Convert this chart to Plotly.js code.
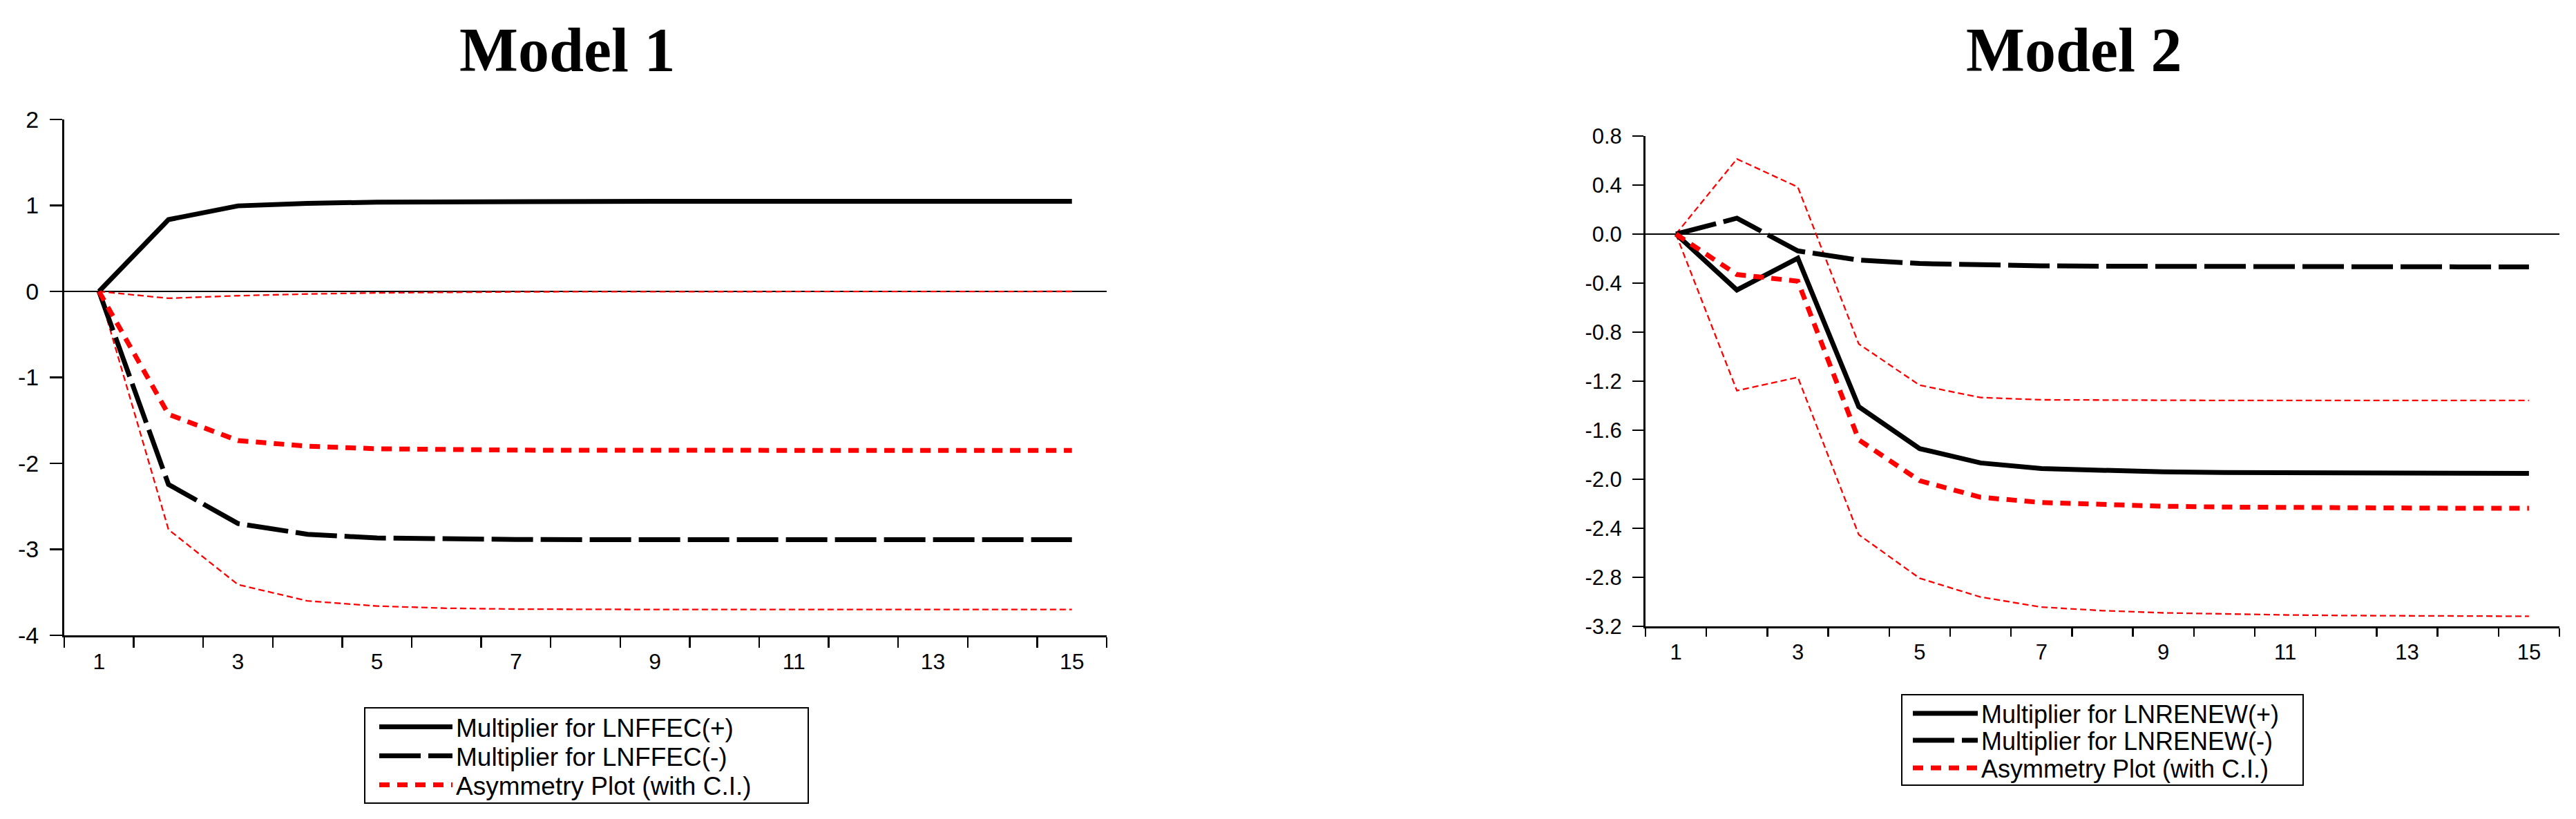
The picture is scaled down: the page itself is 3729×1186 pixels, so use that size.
<!DOCTYPE html>
<html>
<head>
<meta charset="utf-8">
<script src="https://cdn.plot.ly/plotly-3.0.1.min.js"></script>
<style>
html,body{margin:0;padding:0;background:#ffffff;}
#chart{width:3729px;height:1186px;}
</style>
</head>
<body>
<div id="chart"></div>
<script>
// ---- data ----
const periods = ["1","2","3","4","5","6","7","8","9","10","11","12","13","14","15"];
const periodTickText = ["1","","3","","5","","7","","9","","11","","13","","15"];

const titles = ["Model 1", "Model 2"];
const legendNames1 = ["Multiplier for LNFFEC(+)", "Multiplier for LNFFEC(-)", "Asymmetry Plot (with C.I.)"];
const legendNames2 = ["Multiplier for LNRENEW(+)", "Multiplier for LNRENEW(-)", "Asymmetry Plot (with C.I.)"];

// Model 1
const m1Pos   = [0, 0.835, 0.995, 1.025, 1.038, 1.044, 1.046, 1.047, 1.048, 1.048, 1.048, 1.048, 1.048, 1.048, 1.048];
const m1Neg   = [0, -2.245, -2.70, -2.825, -2.868, -2.880, -2.885, -2.887, -2.888, -2.888, -2.888, -2.888, -2.888, -2.888, -2.888];
const m1Asym  = [0, -1.43, -1.735, -1.80, -1.83, -1.842, -1.846, -1.848, -1.849, -1.849, -1.849, -1.849, -1.849, -1.849, -1.849];
const m1Upper = [0, -0.08, -0.05, -0.03, -0.017, -0.009, -0.005, -0.003, -0.002, -0.001, -0.001, 0, 0, 0, 0];
const m1Lower = [0, -2.77, -3.41, -3.60, -3.66, -3.685, -3.695, -3.70, -3.70, -3.70, -3.70, -3.70, -3.70, -3.70, -3.70];
const m1YTicks = [2, 1, 0, -1, -2, -3, -4];
const m1YText  = ["2", "1", "0", "-1", "-2", "-3", "-4"];

// Model 2
const m2Pos   = [0, -0.456, -0.197, -1.408, -1.75, -1.867, -1.913, -1.931, -1.940, -1.945, -1.948, -1.950, -1.951, -1.952, -1.952];
const m2Neg   = [0, 0.13, -0.137, -0.212, -0.240, -0.253, -0.259, -0.262, -0.264, -0.265, -0.266, -0.267, -0.267, -0.268, -0.268];
const m2Asym  = [0, -0.33, -0.384, -1.678, -2.012, -2.147, -2.19, -2.208, -2.22, -2.227, -2.231, -2.234, -2.236, -2.237, -2.237];
const m2Upper = [0, 0.613, 0.384, -0.896, -1.233, -1.333, -1.352, -1.355, -1.356, -1.357, -1.357, -1.357, -1.357, -1.357, -1.357];
const m2Lower = [0, -1.277, -1.168, -2.452, -2.808, -2.961, -3.043, -3.072, -3.09, -3.10, -3.107, -3.112, -3.115, -3.117, -3.118];
const m2YTicks = [0.8, 0.4, 0.0, -0.4, -0.8, -1.2, -1.6, -2.0, -2.4, -2.8, -3.2];
const m2YText  = ["0.8", "0.4", "0.0", "-0.4", "-0.8", "-1.2", "-1.6", "-2.0", "-2.4", "-2.8", "-3.2"];

// ---- styles ----
const W = 3729, H = 1186;
const sans = "'Liberation Sans', Arial, 'DejaVu Sans', sans-serif";
const serif = "'Liberation Serif', 'Times New Roman', serif";
const BLACK = "#000000", RED = "#ff0000";
const thick = 7, thin = 2.3;
const dashNeg = "60px,11px";
const dashAsym = "15px,11px";
const dashCI = "9px,5px";

// legend rows: [legend id, row centre y in px]
const legendRows1 = [["legend", 1053], ["legend2", 1095], ["legend3", 1137]];
const legendRows2 = [["legend4", 1033], ["legend5", 1072], ["legend6", 1112]];

function modelTraces(xa, ya, rows, names, pos, neg, asym, upper, lower) {
  return [
    {x: periods, y: upper, xaxis: xa, yaxis: ya, mode: "lines", showlegend: false,
     line: {color: RED, width: thin, dash: dashCI}, hoverinfo: "skip"},
    {x: periods, y: lower, xaxis: xa, yaxis: ya, mode: "lines", showlegend: false,
     line: {color: RED, width: thin, dash: dashCI}, hoverinfo: "skip"},
    {x: periods, y: pos, xaxis: xa, yaxis: ya, mode: "lines", name: names[0], legend: rows[0][0],
     line: {color: BLACK, width: thick}},
    {x: periods, y: neg, xaxis: xa, yaxis: ya, mode: "lines", name: names[1], legend: rows[1][0],
     line: {color: BLACK, width: thick, dash: dashNeg}},
    {x: periods, y: asym, xaxis: xa, yaxis: ya, mode: "lines", name: names[2], legend: rows[2][0],
     line: {color: RED, width: thick, dash: dashAsym}}
  ];
}

const data = [].concat(
  modelTraces("x", "y", legendRows1, legendNames1, m1Pos, m1Neg, m1Asym, m1Upper, m1Lower),
  modelTraces("x2", "y2", legendRows2, legendNames2, m2Pos, m2Neg, m2Asym, m2Upper, m2Lower)
);

function xAxis(domain, anchor, ticklen, fs) {
  return {
    domain: domain, anchor: anchor, type: "category", range: [-0.5, 14.5],
    tickmode: "array", tickvals: periods, ticktext: periodTickText, tickson: "boundaries",
    ticks: "outside", ticklen: ticklen, tickwidth: 2.5, tickcolor: BLACK,
    showline: true, linewidth: 3, linecolor: BLACK, showgrid: false, zeroline: false,
    tickfont: {family: sans, size: fs, color: BLACK}, ticklabelstandoff: 8, fixedrange: true
  };
}
function yAxis(domain, anchor, range, vals, text, ticklen, zw, fs) {
  return {
    domain: domain, anchor: anchor, range: range,
    tickmode: "array", tickvals: vals, ticktext: text,
    ticks: "outside", ticklen: ticklen, tickwidth: 2.5, tickcolor: BLACK,
    showline: true, linewidth: 3, linecolor: BLACK, showgrid: false,
    zeroline: true, zerolinecolor: BLACK, zerolinewidth: zw,
    tickfont: {family: sans, size: fs, color: BLACK}, ticklabelstandoff: 9, fixedrange: true
  };
}
function legendRow(xpx, ypx, iw, fs) {
  return {
    x: xpx / W, y: 1 - ypx / H, xanchor: "left", yanchor: "middle", orientation: "v",
    bgcolor: "rgba(0,0,0,0)", borderwidth: 0,
    font: {family: sans, size: fs, color: BLACK}, itemwidth: iw
  };
}
function frame(x0, x1, y0, y1) {
  return {type: "rect", xref: "paper", yref: "paper",
          x0: x0 / W, x1: x1 / W, y0: 1 - y1 / H, y1: 1 - y0 / H,
          line: {color: BLACK, width: 2}, fillcolor: "rgba(0,0,0,0)", layer: "above"};
}

const layout = {
  width: W, height: H,
  margin: {l: 0, r: 0, t: 0, b: 0, pad: 0},
  paper_bgcolor: "#ffffff", plot_bgcolor: "#ffffff",
  showlegend: true,
  xaxis: xAxis([93 / W, 1602 / W], "y", 15, 32),
  yaxis: yAxis([1 - 920 / H, 1 - 173 / H], "x", [-4, 2], m1YTicks, m1YText, 18, 2.5, 34),
  xaxis2: xAxis([2382 / W, 3705 / W], "y2", 12, 31),
  yaxis2: yAxis([1 - 907 / H, 1 - 197 / H], "x2", [-3.2, 0.8], m2YTicks, m2YText, 16, 1.8, 31),
  shapes: [frame(528, 1170, 1025, 1163), frame(2753, 3334, 1006, 1137)],
  annotations: [
    {text: "<b>" + titles[0] + "</b>", xref: "paper", yref: "paper", x: 821 / W, y: 1 - 72 / H,
     xanchor: "center", yanchor: "middle", showarrow: false,
     font: {family: serif, size: 90, color: BLACK}},
    {text: "<b>" + titles[1] + "</b>", xref: "paper", yref: "paper", x: 3002 / W, y: 1 - 72 / H,
     xanchor: "center", yanchor: "middle", showarrow: false,
     font: {family: serif, size: 90, color: BLACK}}
  ]
};
legendRows1.forEach(function (r) { layout[r[0]] = legendRow(544, r[1], 106, 37); });
legendRows2.forEach(function (r) { layout[r[0]] = legendRow(2764, r[1], 94, 36); });

Plotly.newPlot("chart", data, layout, {displayModeBar: false, staticPlot: true, responsive: false});
</script>
</body>
</html>
